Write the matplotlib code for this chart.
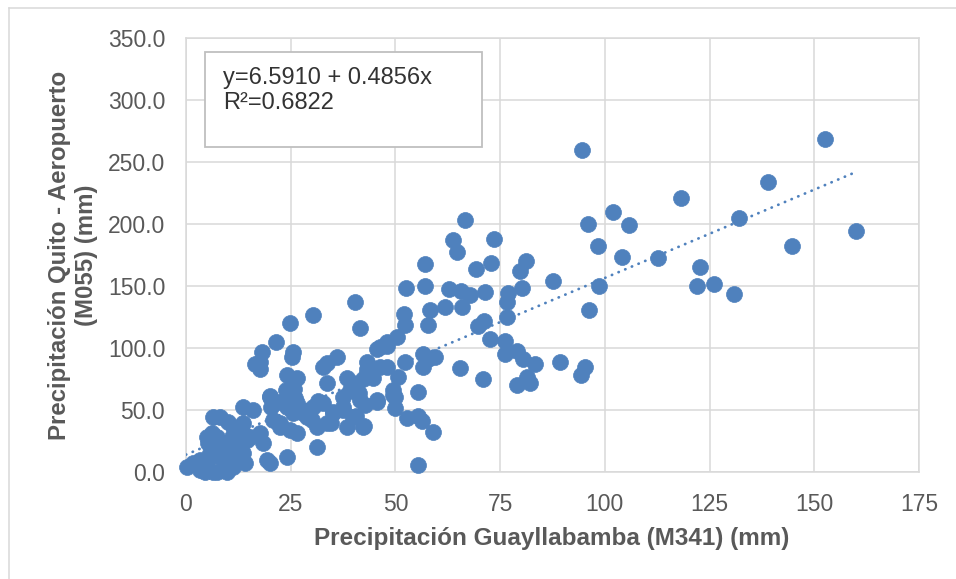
import numpy as np
import matplotlib.pyplot as plt
from matplotlib.patches import Rectangle
from matplotlib.lines import Line2D

# precipitation pairs (Guayllabamba, Quito)
guay = [152.6, 94.6, 139, 118.2, 101.9, 66.6, 95.9, 105.7, 132, 160, 144.6, 98.3, 63.8, 64.7, 73.5,
        104.1, 112.6, 122.8, 122.1, 126, 130.8, 98.7, 96.2, 87.5, 81.1, 79.7, 72.9, 69.3, 80.2, 76.9,
        76.7, 71.5, 67.9, 65.7, 62.9, 61.9, 65.8, 57, 57.1, 52.5, 58.3, 52, 52.3, 57.7, 69.8,
        71.1, 76.6, 40.3, 30.3, 41.5, 24.8,
        72.6, 76.1, 76.1, 79, 80.4, 83.3, 89.3, 95.2, 94.3, 81.4, 79, 82.1, 70.9, 65.4, 56.6,
        57.8, 59.4, 56.6, 55.4, 52.3, 50.6, 49.4, 49.4, 50.3, 48, 46.3, 46.3, 48, 45.6, 49.9,
        52.7, 55.4, 56.3, 59, 55.4,
        21.5, 18.1, 17.7, 16.5, 17.7, 25.5, 25.3, 33.7, 36, 32.7, 24.1, 26.5, 33.7, 38.4, 43.2,
        43.2, 44.6, 45.6, 20, 13.6, 16, 24.8, 26, 24.1, 20.8, 22.4, 18.4, 19.3, 20, 24.1,
        31.3, 26.5, 24.8, 27.9, 30, 31.3, 33.7, 35.1, 37.5, 37.5, 39.1, 39.9, 41.5, 42.7, 42.2,
        38.4, 45.6, 6.4, 8.1, 6.2, 7.4, 6.4, 10, 11.2, 13.6, 14.6, 11, 12.9, 13.6, 5,
        8.1, 9.8, 10.5, 11.2, 0.2, 1.7, 3.3, 5, 6.4, 8.8, 4.5, 7.4, 8.1, 5.7, 22.5,
        20.3, 23.9, 25.7, 20.1, 31.5, 34.5, 40.7, 42.4, 41.4,
        32.7, 40.8, 39.9, 37.5, 35.1, 30.3, 28.9, 27.2, 25.5, 42.2, 43.2, 48, 49.9,
        5.2, 5.7, 3.3, 9.8, 10.5, 12.2, 14.1, 12.2, 13.6, 17.7, 15.3, 22.4, 26.5]
quito = [268.5, 259.6, 233.5, 221, 209.8, 203, 199.8, 199.2, 204.8, 194.7, 182.3, 182.3, 186.7, 177.2, 188.2,
         173.4, 172.2, 165, 150.3, 151.5, 143.2, 150.3, 130.7, 154.4, 170.4, 162.4, 168.9, 163.6, 148.2, 144.3,
         137.2, 145.2, 142.9, 146.1, 147.3, 133.1, 133.1, 167.5, 149.7, 148.5, 130.7, 127.7, 118.8, 118.8, 117.7,
         121.5, 124.8, 137, 127, 115.9, 119.9,
         107, 105.3, 94.8, 97.2, 90.8, 86.7, 89.1, 85, 78.6, 77, 70.5, 72.1, 74.6, 83.5, 94.8,
         90.8, 92.4, 84.3, 64.8, 89, 77, 66.5, 62.4, 108.5, 104.5, 100.5, 84.3, 84.3, 56.7, 51.9,
         43.8, 45.4, 41.3, 32.4, 5.7,
         104.5, 96.4, 89, 86.7, 82.7, 96.4, 92.4, 88.3, 92.4, 85, 78.6, 76.2, 72, 76.2, 89,
         82.7, 76.2, 98.9, 60.8, 52.7, 50.2, 64, 60, 52.7, 42.1, 36.5, 23.5, 9.7, 7.3, 12.2,
         20.3, 31.6, 34, 47.8, 42.1, 36.5, 39.7, 48.6, 52.7, 60.8, 66.5, 72.1, 58.3, 54.3, 36.5,
         36.5, 58.3, 44.6, 44.6, 31.6, 28.4, 20.3, 40.5, 36.5, 31.6, 25.9, 28.4, 20.3, 15.4, 28.4,
         23.5, 15.4, 9.7, 4, 4, 7.3, 9.7, 4, 0, 1.6, 0, 0, 12.2, 15.4, 56.3,
         52.8, 66.1, 66.7, 61.6, 57.2, 39.4, 45.3, 37.3, 63.7,
         55.9, 64, 44.6, 50.2, 47.8, 52.7, 44.6, 50.2, 47.8, 74.6, 80, 101.5, 60.8,
         23.5, 12.2, 1.6, 0, 17.8, 12.2, 7.3, 25.9, 39.7, 31.6, 28.4, 39.7, 56]

# trendline as drawn in the chart
trend_x = [0, 160]
trend_y = [14, 242]

xticks = [0, 25, 50, 75, 100, 125, 150, 175]
yticks = [0, 50, 100, 150, 200, 250, 300, 350]

blue = '#4F81BD'
grey_txt = '#595959'
grid_c = '#D9D9D9'
font = ['Liberation Sans', 'DejaVu Sans']

fig = plt.figure(figsize=(9.56, 5.79), dpi=100)
ax = fig.add_axes([186/956, 1 - 472/579, 733/956, 434/579])

ax.scatter(guay, quito, s=132, color=blue, edgecolors=blue, linewidths=0.5, zorder=3,
           clip_on=False)
ax.plot(trend_x, trend_y, color=blue, lw=2.0, linestyle=(0, (0.1, 2.5)),
        dash_capstyle='round', zorder=4)

ax.set_xlim(0, 175)
ax.set_ylim(0, 350)
ax.set_xticks(xticks)
ax.set_yticks(yticks)
ax.set_xticklabels([str(v) for v in xticks])
ax.set_yticklabels(['%.1f' % v for v in yticks])
ax.tick_params(length=0, pad=15, labelsize=16.5, labelcolor=grey_txt)
for lab in ax.get_xticklabels() + ax.get_yticklabels():
    lab.set_family(font)
ax.grid(True, color=grid_c, lw=1.1, zorder=0)
ax.set_axisbelow(True)
for sp in ax.spines.values():
    sp.set_color(grid_c)
    sp.set_linewidth(1.1)

# equation box
ax.add_patch(Rectangle((0.026, 0.749), 0.378, 0.219, transform=ax.transAxes,
                       facecolor='white', edgecolor='#BFBFBF', lw=1.3, zorder=5))
ax.text(0.0505, 0.908, 'y=6.5910 + 0.4856x', transform=ax.transAxes, fontsize=17,
        family=font, color='#333333', va='center', zorder=6)
ax.text(0.0505, 0.850, 'R²=0.6822', transform=ax.transAxes, fontsize=17,
        family=font, color='#333333', va='center', zorder=6)

fig.text(552/956, 1 - 539/579, 'Precipitación Guayllabamba (M341) (mm)', ha='center', va='center',
         fontsize=17.5, fontweight='bold', color=grey_txt, family=font)
fig.text(73/956, 1 - 255/579, 'Precipitación Quito - Aeropuerto\n(M055) (mm)', ha='center',
         va='center', rotation=90, fontsize=17.3, fontweight='bold', color=grey_txt,
         family=font, linespacing=1.25)

# outer chart frame
fig.add_artist(Line2D([9/956, 1], [1 - 8/579, 1 - 8/579], color=grid_c, lw=1.1))
fig.add_artist(Line2D([9/956, 9/956], [0, 1 - 8/579], color=grid_c, lw=1.1))

fig.savefig('out.png', dpi=100)
